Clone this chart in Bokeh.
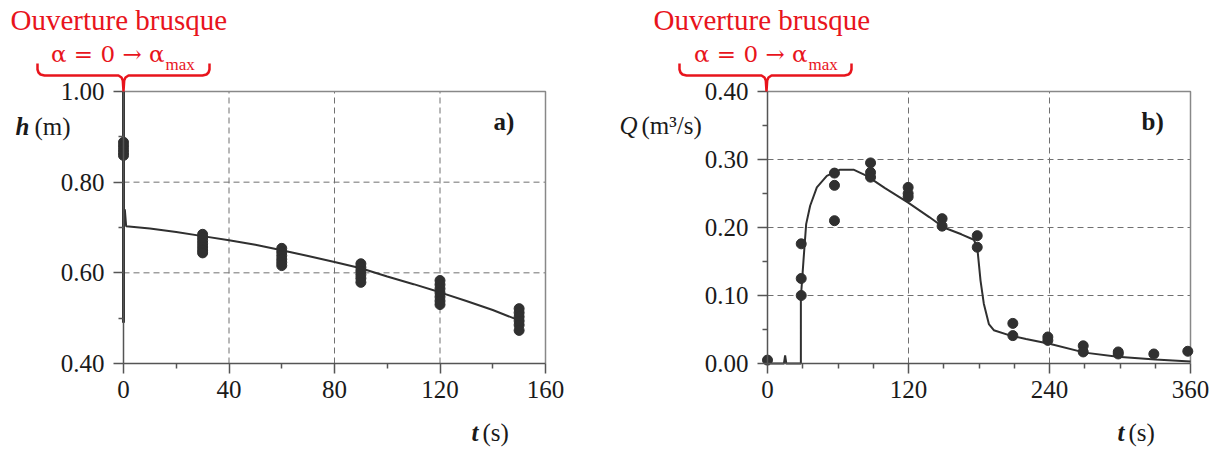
from bokeh.plotting import figure
from bokeh.layouts import row
from bokeh.models import Range1d, FixedTicker, PrintfTickFormatter, Label, PolyAnnotation
from bokeh.embed import file_html
from bokeh.resources import INLINE

# ---------------- data: panel a) h(t) ----------------
sim_t_a = [0, 0, 0, 0, 0.5, 1, 10, 20, 30, 40, 50, 60, 70, 80, 90, 100, 110, 120, 130, 140, 150]
sim_h_a = [1.00, 0.49, 0.82, 0.70, 0.74, 0.703, 0.698, 0.690, 0.681, 0.672, 0.662, 0.650, 0.637,
           0.624, 0.610, 0.592, 0.575, 0.557, 0.538, 0.518, 0.495]
meas_t_a = [0] * 5 + [30] * 7 + [60] * 6 + [90] * 6 + [120] * 7 + [150] * 6
meas_h_a = [0.888, 0.880, 0.872, 0.865, 0.859,
            0.685, 0.678, 0.671, 0.664, 0.657, 0.650, 0.644,
            0.654, 0.646, 0.638, 0.630, 0.623, 0.616,
            0.620, 0.612, 0.604, 0.596, 0.588, 0.579,
            0.583, 0.574, 0.565, 0.556, 0.547, 0.538, 0.530,
            0.521, 0.512, 0.503, 0.494, 0.485, 0.473]
xticks_a = [0, 40, 80, 120, 160]
xminor_a = [20, 60, 100, 140]
yticks_a = [0.40, 0.60, 0.80, 1.00]
yminor_a = [0.50, 0.70, 0.90]

# ---------------- data: panel b) Q(t) ----------------
sim_t_b = [3, 14, 15, 15.5, 16, 28.4, 28.4, 30.6, 32.9, 36.3, 42.0, 50.5, 61.8, 73.2, 84.5, 100,
           119.4, 138, 150, 165, 175.6, 178.5, 181.3, 184.1, 188.4, 192.6, 206.8, 220, 240, 270,
           298, 330, 360]
sim_q_b = [0, 0, 0.012, 0.006, 0, 0, 0.097, 0.151, 0.205, 0.232, 0.259, 0.276, 0.285, 0.285,
           0.276, 0.258, 0.237, 0.215, 0.200, 0.190, 0.182, 0.171, 0.122, 0.088, 0.058, 0.049,
           0.041, 0.036, 0.029, 0.016, 0.010, 0.006, 0.003]
meas_t_b = [0, 28.7, 28.7, 28.7, 57, 57, 57, 87.7, 87.7, 87.7, 119.7, 119.7, 119.7,
            148.6, 148.6, 178.5, 178.5, 208.8, 208.8, 238.6, 238.6, 268.7, 268.7,
            298.5, 298.5, 328.8, 357.7]
meas_q_b = [0.005, 0.176, 0.125, 0.100, 0.280, 0.262, 0.210, 0.295, 0.281, 0.274, 0.259, 0.250, 0.245,
            0.213, 0.202, 0.188, 0.171, 0.059, 0.041, 0.039, 0.034, 0.026, 0.017,
            0.017, 0.014, 0.014, 0.018]
xticks_b = [0, 120, 240, 360]
xminor_b = [30, 60, 90, 150, 180, 210, 270, 300, 330]
yticks_b = [0.00, 0.10, 0.20, 0.30, 0.40]
yminor_b = [0.05, 0.15, 0.25, 0.35]

SERIF = "Liberation Serif"
MATH = "DejaVu Serif"
RED = "#e8141c"
INK = "#303030"
AX = "#555555"
H = 448
BOX_TOP, BOX_BOTTOM = 91, 363   # page px of the plot box (layout)


def make_panel(width, left_px, box_left, box_right, xlim, ylim, xt, xm, yt, ym):
    # The frame covers the whole canvas; axes are drawn at fixed data locations.
    kx = (box_right - box_left) / (xlim[1] - xlim[0])
    ky = (BOX_BOTTOM - BOX_TOP) / (ylim[1] - ylim[0])
    x0 = xlim[0] - (box_left - left_px) / kx
    x1 = xlim[1] + (left_px + width - box_right) / kx
    y1 = ylim[1] + BOX_TOP / ky
    y0 = ylim[0] - (H - BOX_BOTTOM) / ky
    p = figure(width=width, height=H, output_backend="svg", toolbar_location=None,
               x_range=Range1d(x0, x1), y_range=Range1d(y0, y1),
               min_border=0, min_border_left=0, min_border_right=0,
               min_border_top=0, min_border_bottom=0)
    p.title.visible = False
    p.background_fill_color = "white"
    p.border_fill_color = "white"
    p.outline_line_color = None
    p.grid.visible = False
    p.xaxis.fixed_location = ylim[0]
    p.yaxis.fixed_location = xlim[0]
    p.xaxis.bounds = xlim
    p.yaxis.bounds = ylim
    p.xaxis.ticker = FixedTicker(ticks=xt, minor_ticks=xm)
    p.yaxis.ticker = FixedTicker(ticks=yt, minor_ticks=ym)
    p.xaxis.formatter = PrintfTickFormatter(format="%d")
    p.yaxis.formatter = PrintfTickFormatter(format="%.2f")
    for ax in (p.xaxis, p.yaxis):
        ax.axis_line_color = AX
        ax.axis_line_width = 1.5
        ax.major_tick_line_color = AX
        ax.minor_tick_line_color = AX
        ax.major_tick_line_width = 1.5
        ax.minor_tick_line_width = 1.5
        ax.major_tick_out = 10
        ax.major_tick_in = 0
        ax.minor_tick_out = 5
        ax.minor_tick_in = 0
        ax.major_label_text_font = SERIF
        ax.major_label_text_font_size = "25px"
        ax.major_label_text_color = "#1a1a1a"
    p.xaxis.major_label_standoff = 7
    p.yaxis.major_label_standoff = 9
    # dashed grid inside the plot box
    gx = xt[1:-1]
    gy = yt[1:-1]
    p.segment(x0=gx, y0=[ylim[0]] * len(gx), x1=gx, y1=[ylim[1]] * len(gx),
              line_color="#707070", line_dash="6 4", line_width=1)
    p.segment(x0=[xlim[0]] * len(gy), y0=gy, x1=[xlim[1]] * len(gy), y1=gy,
              line_color="#707070", line_dash="6 4", line_width=1)
    # top and right border of the plot box
    p.line([xlim[0], xlim[1], xlim[1]], [ylim[1], ylim[1], ylim[0]], line_color="#888888", line_width=1.5)
    return p


def lab(p, left_px, px, py, text, size, color="#1a1a1a", style="normal", align="left", font=SERIF):
    corr = 0.33 * size + 1   # empirical baseline correction
    p.add_layout(Label(x=px - left_px, y=H - py + corr, x_units="screen", y_units="screen",
                       text=text, text_font=font, text_font_size=f"{size}px", text_color=color,
                       text_font_style=style, text_align=align, text_baseline="alphabetic"))


def brace(p, left_px, x0, xc, x1):
    pts = [(x0, 63), (x0, 69), (x0 + 1, 72), (x0 + 3, 74), (x0 + 7, 75), (xc - 5, 75),
           (xc - 2, 77), (xc - 0.7, 80), (xc, 91), (xc + 0.7, 80), (xc + 2, 77), (xc + 5, 75),
           (x1 - 7, 75), (x1 - 3, 74), (x1 - 1, 72), (x1, 69), (x1, 63)]
    path = pts + pts[::-1][1:-1]
    xs = [x - left_px for x, _ in path]
    ys = [H - y for _, y in path]
    p.add_layout(PolyAnnotation(xs=xs, ys=ys, xs_units="screen", ys_units="screen",
                                fill_alpha=0, fill_color=None, line_color=RED,
                                line_alpha=1.0, line_width=2.5))


def header(p, left_px, tx, bx0, bxc, bx1):
    lab(p, left_px, tx, 30, "Ouverture brusque", 29, color=RED)
    lab(p, left_px, tx + 154, 62, "α = 0 → α", 23, color=RED, align="right", font=MATH)
    lab(p, left_px, tx + 155, 71, "max", 17, color=RED)
    brace(p, left_px, bx0, bxc, bx1)


# ---------------- panel a ----------------
LA = 0
pa = make_panel(610, LA, 123, 545, (0, 160), (0.40, 1.00), xticks_a, xminor_a, yticks_a, yminor_a)
pa.line(sim_t_a[:4], sim_h_a[:4], line_color=INK, line_width=3)
pa.line(sim_t_a[3:], sim_h_a[3:], line_color=INK, line_width=2)
pa.scatter(meas_t_a, meas_h_a, size=10, color=INK)
header(pa, LA, 10, 37, 123, 209)
lab(pa, LA, 29, 135, "h", 25, style="bold italic", align="right")
lab(pa, LA, 34, 135, "(m)", 25)
lab(pa, LA, 478, 441, "t", 25, style="bold italic", align="right")
lab(pa, LA, 482, 441, "(s)", 25)
lab(pa, LA, 493, 130, "a)", 25, style="bold")

# ---------------- panel b ----------------
LB = 610
pb = make_panel(600, LB, 767, 1190, (0, 360), (0.0, 0.40), xticks_b, xminor_b, yticks_b, yminor_b)
pb.line(sim_t_b, sim_q_b, line_color=INK, line_width=2)
pb.scatter(meas_t_b, meas_q_b, size=10, color=INK)
header(pb, LB, 653, 679, 766, 851)
lab(pb, LB, 637, 134, "Q", 25, style="italic", align="right")
lab(pb, LB, 641, 134, "(m³/s)", 25)
lab(pb, LB, 1124, 441, "t", 25, style="bold italic", align="right")
lab(pb, LB, 1128, 441, "(s)", 25)
lab(pb, LB, 1141, 130, "b)", 25, style="bold")

layout = row(pa, pb)
open("out.html", "w").write(file_html(layout, INLINE))
